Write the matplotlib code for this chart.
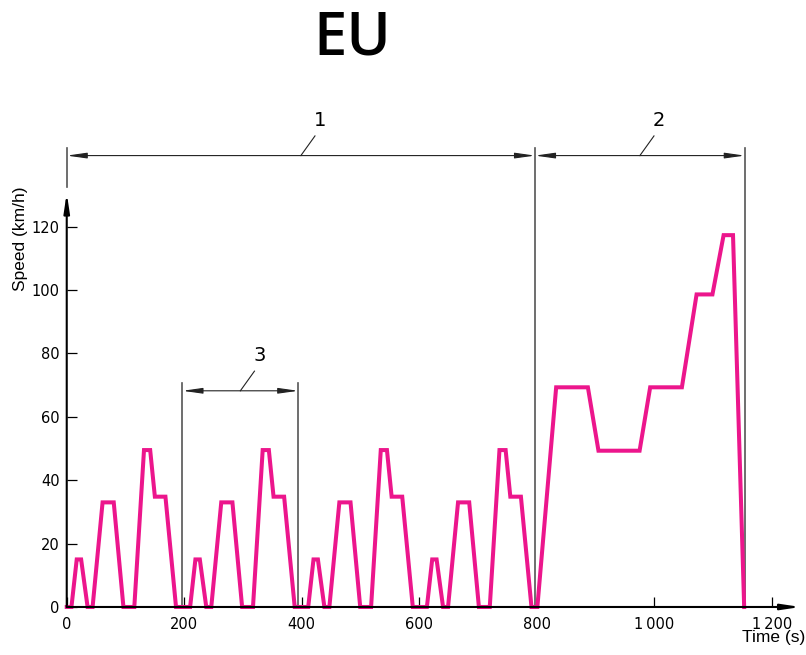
import matplotlib.pyplot as plt

# urban part: four ECE cycles, then the extra-urban cycle
time_s = [
    0, 8, 17, 24.5, 35.5, 44, 61, 80, 96.5, 115, 131.5, 142, 150, 168, 186,
    210, 219, 226.5, 237.5, 246, 263, 282, 298.5, 317, 333.5, 344, 352, 370, 388,
    411, 420, 427.5, 438.5, 447, 464, 483, 499.5, 518, 534.5, 545, 553, 571, 589,
    613, 622, 629.5, 640.5, 649, 666, 685, 701.5, 720, 736.5, 747, 755, 773, 791,
    801, 833, 887, 905, 975, 993, 1047, 1072, 1099, 1118, 1134, 1153,
]
speed_kmh = [
    0, 0, 15, 15, 0, 0, 33, 33, 0, 0, 49.5, 49.5, 34.8, 34.8, 0,
    0, 15, 15, 0, 0, 33, 33, 0, 0, 49.5, 49.5, 34.8, 34.8, 0,
    0, 15, 15, 0, 0, 33, 33, 0, 0, 49.5, 49.5, 34.8, 34.8, 0,
    0, 15, 15, 0, 0, 33, 33, 0, 0, 49.5, 49.5, 34.8, 34.8, 0,
    0, 69.3, 69.3, 49.3, 49.3, 69.3, 69.3, 98.6, 98.6, 117.3, 117.3, 0,
]

x_ticks = [0, 200, 400, 600, 800, 1000, 1200]
x_tick_labels = ["0", "200", "400", "600", "800", "1\u2009000", "1\u2009200"]
y_ticks = [0, 20, 40, 60, 80, 100, 120]

# dimension marks: (start, end, height, label)
dims = [
    (0, 797, 142.4, "1"),
    (797, 1154, 142.4, "2"),
    (197, 394, 68.2, "3"),
]

PINK = "#EC168C"

fig = plt.figure(figsize=(8.06, 6.55), dpi=100)
ax = fig.add_axes([0.0828, 0.0733, 0.9112, 0.634])
ax.set_xlim(0, 1250)
ax.set_ylim(0, 131)
for s in ax.spines.values():
    s.set_visible(False)

ax.plot(time_s, speed_kmh, color=PINK, lw=2.9, solid_joinstyle="miter", clip_on=False, zorder=3)

# axes drawn as arrows
axis_arrow = dict(arrowstyle="-|>,head_length=0.8,head_width=0.12",
                  mutation_scale=14, lw=1.5, color="black", shrinkA=0, shrinkB=0)
ax.annotate("", xy=(1249, 0), xytext=(0, 0), annotation_clip=False,
            arrowprops=axis_arrow, zorder=4)
ax.annotate("", xy=(0, 130.6), xytext=(0, 0), annotation_clip=False,
            arrowprops=axis_arrow, zorder=4)

ax.set_xticks(x_ticks)
ax.set_xticklabels(x_tick_labels)
ax.set_yticks(y_ticks)
ax.tick_params(direction="in", length=7, width=0.9, labelsize=10.5, color="black")
ax.tick_params(axis="x", pad=7)
ax.tick_params(axis="y", pad=5)

# extension lines
ext_kw = dict(color="#555555", lw=1.2, clip_on=False, zorder=2)
ax.plot([0, 0], [132.5, 144.7], **ext_kw)
ax.plot([797, 797], [0, 144.7], **ext_kw)
ax.plot([1154, 1154], [0, 144.7], **ext_kw)
ax.plot([197, 197], [0, 70.8], **ext_kw)
ax.plot([394, 394], [0, 70.8], **ext_kw)

# dimension lines with leaders and numbers
for x0, x1, yv, lab in dims:
    ax.annotate("", xy=(x1, yv), xytext=(x0, yv), annotation_clip=False,
                arrowprops=dict(arrowstyle="<|-|>,head_length=0.85,head_width=0.12",
                                mutation_scale=14, lw=0.8, color="#222222",
                                shrinkA=0, shrinkB=0))
    xm = (x0 + x1) / 2
    ax.plot([xm, xm + 24], [yv, yv + 6.2], color="#222222", lw=0.8, clip_on=False)
    ax.text(xm + 33, yv + 11, lab, fontsize=14, ha="center", va="center")

fig.text(0.4367, 0.941, "EU", fontsize=43, fontweight="semibold", family="Open Sans",
         ha="center", va="center")
fig.text(0.999, 0.015, "Time (s)", fontsize=12.5, family="Liberation Sans",
         ha="right", va="bottom")
fig.text(0.026, 0.635, "Speed (km/h)", fontsize=12.5, family="Liberation Sans",
         rotation=90, ha="center", va="center")

fig.savefig("out.png", dpi=100)
plt.close(fig)
